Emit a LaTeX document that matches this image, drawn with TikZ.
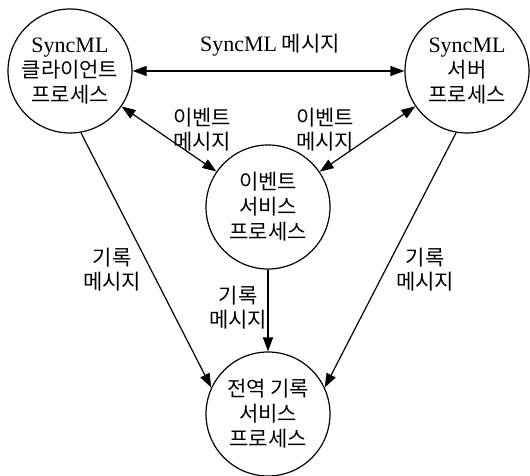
\documentclass[tikz,border=0pt]{standalone}
\usepackage{fontspec}
\setmainfont{Liberation Serif}
\newfontfamily\kr{Noto Sans CJK KR}
\usetikzlibrary{arrows.meta}
\newcommand{\sml}{{\rmfamily\fontsize{22}{25}\selectfont SyncML}}
\begin{document}
\begin{tikzpicture}[x=1pt,y=-1pt,line width=1.2pt,
    >={Triangle[length=14pt,width=10pt]},
    proc/.style={circle,draw,minimum size=124pt,inner sep=0pt,align=center,
      font=\kr\fontsize{21}{25}\selectfont},
    msg/.style={align=center,font=\kr\fontsize{21}{24}\selectfont}]
    \useasboundingbox (0,0) rectangle (530,476);

    \node[proc] (client) at (70,71) {\sml\\클라이언트\\프로세스};
    \node[proc] (server) at (467,71) {\sml\\서버\\프로세스};
    \node[proc] (event) at (268,207) {이벤트\\서비스\\프로세스};
    \node[proc] (global) at (268,414) {전역 기록\\서비스\\프로세스};

    \draw[<->] (client) -- (server);
    \draw[<->] (client) -- (event);
    \draw[<->] (server) -- (event);
    \draw[->] (client.-80) -- (global.155);
    \draw[->] (server.-100) -- (global.25);
    \draw[->] (event) -- (global);

    \node[msg] (lsync) at (270,45) {\sml\ 메시지};
    \node[msg] (levl) at (202,130) {이벤트\\메시지};
    \node[msg] (levr) at (325,130) {이벤트\\메시지};
    \node[msg] (llogl) at (112,270) {기록\\메시지};
    \node[msg] (llogm) at (238,308) {기록\\메시지};
    \node[msg] (llogr) at (425,270) {기록\\메시지};
  \end{tikzpicture}
\end{document}
